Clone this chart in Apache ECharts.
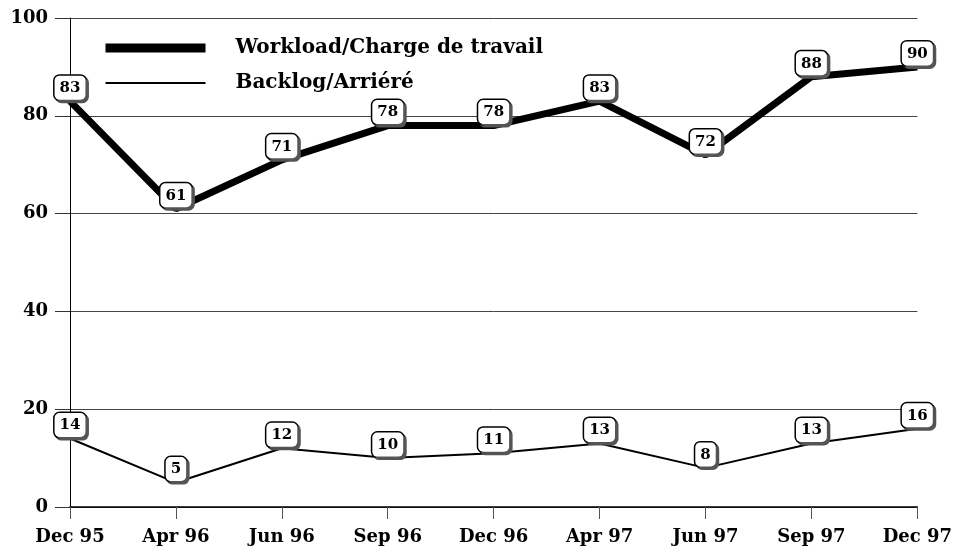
<!DOCTYPE html>
<html>
<head>
<meta charset="utf-8">
<script src="https://cdn.jsdelivr.net/npm/echarts@6/dist/echarts.min.js"></script>
<style>
  html, body { margin: 0; padding: 0; background: #fff; }
  #chart { width: 955px; height: 550px; }
</style>
</head>
<body>
<div id="chart"></div>
<script>
// 横轴日期
var periods = ['Dec 95', 'Apr 96', 'Jun 96', 'Sep 96', 'Dec 96', 'Apr 97', 'Jun 97', 'Sep 97', 'Dec 97']
// 工作量
var workload = [83, 61, 71, 78, 78, 83, 72, 88, 90]
// 积压
var backlog = [14, 5, 12, 10, 11, 13, 8, 13, 16]

var font = 'DejaVu Serif'

// 数据标签：白底圆角框带阴影
var boxLabel = {
  show: true,
  position: 'top',
  distance: 1,
  fontFamily: font,
  fontWeight: 'bold',
  fontSize: 15,
  color: '#000',
  backgroundColor: '#fff',
  borderColor: '#000',
  borderWidth: 1.5,
  borderRadius: 5,
  padding: [5, 5, 4, 5],
  shadowColor: '#555',
  shadowOffsetX: 2,
  shadowOffsetY: 2,
  shadowBlur: 0
}

var myChart = echarts.init(document.getElementById('chart'))
var option = {
  animation: false,
  grid: { left: 70, right: 37, top: 18, bottom: 43 },
  legend: {
    orient: 'vertical',
    left: 96,
    top: 33,
    itemWidth: 100,
    itemHeight: 14,
    itemGap: 15,
    itemStyle: { opacity: 0 },
    textStyle: {
      fontFamily: font,
      fontWeight: 'bold',
      fontSize: 20,
      color: '#000',
      padding: [0, 0, 0, 25]
    },
    data: [
      { name: 'Workload/Charge de travail', lineStyle: { width: 9 }, itemStyle: { opacity: 0 } },
      { name: 'Backlog/Arriéré', lineStyle: { width: 2 }, itemStyle: { opacity: 0 } }
    ]
  },
  xAxis: {
    type: 'category',
    boundaryGap: false,
    data: periods,
    axisLine: { lineStyle: { color: '#000', width: 1.5 } },
    axisTick: { length: 12, lineStyle: { color: '#555' } },
    axisLabel: {
      margin: 21,
      fontFamily: font,
      fontWeight: 'bold',
      fontSize: 18,
      color: '#000'
    }
  },
  yAxis: {
    type: 'value',
    min: 0,
    max: 100,
    interval: 20,
    axisLine: { show: true, lineStyle: { color: '#000', width: 1 } },
    axisTick: { show: true, length: 15, lineStyle: { color: '#333' } },
    splitLine: { lineStyle: { color: '#444', width: 1 } },
    axisLabel: {
      margin: 22,
      fontFamily: font,
      fontWeight: 'bold',
      fontSize: 18,
      color: '#000'
    }
  },
  series: [
    {
      name: 'Workload/Charge de travail',
      type: 'line',
      data: workload,
      symbol: 'circle',
      symbolSize: 1,
      itemStyle: { color: '#000' },
      lineStyle: { color: '#000', width: 7 },
      label: boxLabel
    },
    {
      name: 'Backlog/Arriéré',
      type: 'line',
      data: backlog,
      symbol: 'circle',
      symbolSize: 1,
      itemStyle: { color: '#000' },
      lineStyle: { color: '#000', width: 2 },
      label: boxLabel
    }
  ]
}
myChart.setOption(option)
window.addEventListener('resize', () => {
  myChart.resize()
})
</script>
</body>
</html>
